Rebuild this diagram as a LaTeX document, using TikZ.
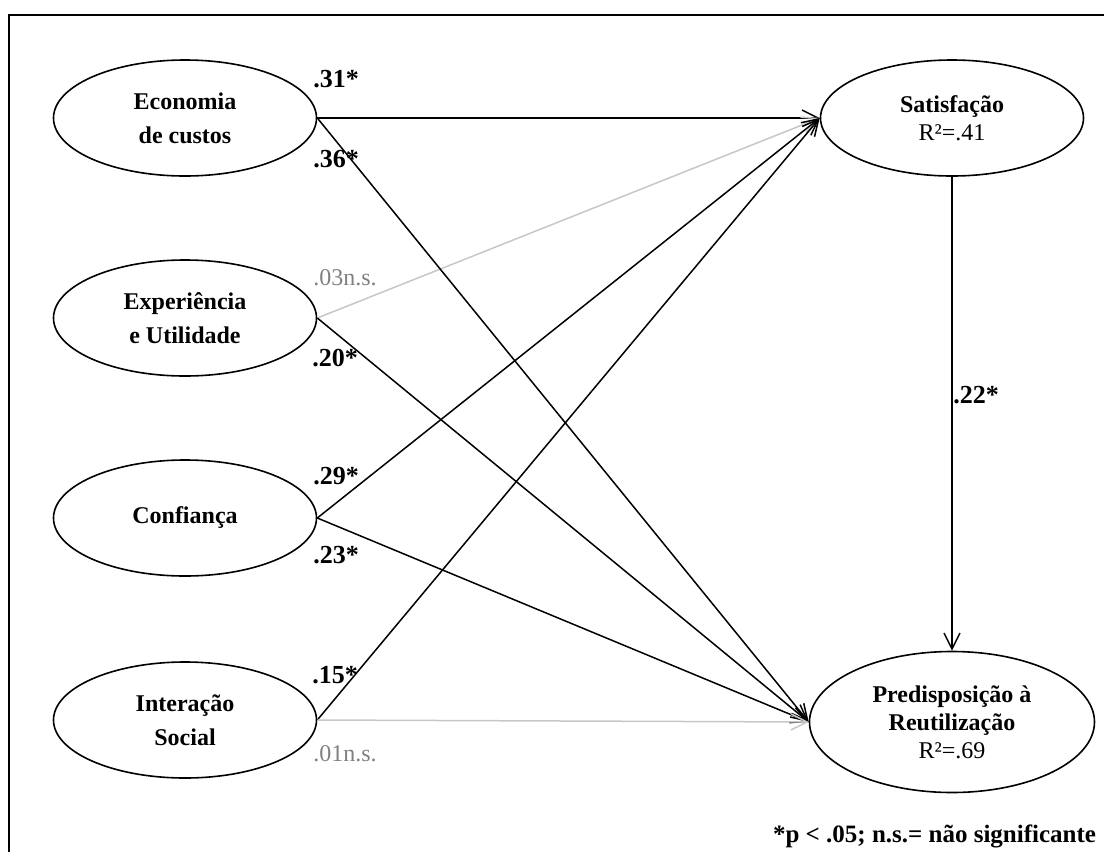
\documentclass[tikz,border=0pt]{standalone}
\usepackage{fontspec}
\setmainfont{Liberation Serif}
\usetikzlibrary{shapes.geometric,arrows.meta}
\newcommand{\diagfont}{\fontsize{12}{14}\selectfont}
\newcommand{\coeffont}{\fontsize{13}{15}\selectfont}
\newcommand{\tiplen}{8pt}

\begin{document}
\begin{tikzpicture}[x=.5pt,y=-.5pt,
    latent/.style={draw, ellipse, line width=.8pt, minimum width=131.5pt,
      minimum height=58pt, inner sep=0pt, align=center, font=\diagfont\bfseries},
    path/.style={line width=.75pt, -{Straight Barb[length=\tiplen,width=\tiplen]}},
    nspath/.style={path, draw=black!22},
    coef/.style={font=\coeffont\bfseries},
    nscoef/.style={font=\diagfont, text=black!50}]
  \useasboundingbox (0,0) rectangle (1104,852);
  \draw[line width=.6pt] (9,870) -- (9,15) -- (1120,15);

      \node (econ) at (185,118) [latent] {Economia\\[3pt]de custos};
      \node (expe) at (185,318) [latent] {Experiência\\[3pt]e Utilidade};
      \node (conf) at (185,518) [latent] {Confiança};
      \node (inte) at (185,720) [latent] {Interação\\[3pt]Social};
      \node (sati) at (952,118) [latent] {Satisfação\\\mdseries R²=.41};
      \node (pred) at (952,722) [latent, minimum width=142.5pt, minimum height=70.5pt]
        {Predisposição à\\Reutilização\\\mdseries R²=.69};

      \draw[path] (econ.east) -- (sati.west);
      \draw[nspath] (expe.east) -- (sati.west);
      \draw[path] (conf.east) -- (sati.west);
      \draw[path] (inte.east) -- (sati.west);
      \draw[path] (econ.east) -- (pred.west);
      \draw[path] (expe.east) -- (pred.west);
      \draw[path] (conf.east) -- (pred.west);
      \draw[nspath] (inte.east) -- (pred.west);
      \draw[path] (sati.south) -- (pred.north);

      \node (c31) at (336,79) [coef] {.31*};
      \node (c36) at (336,159) [coef] {.36*};
      \node (c03) at (345,278) [nscoef] {.03n.s.};
      \node (c20) at (335,358) [coef] {.20*};
      \node (c29) at (336,476) [coef] {.29*};
      \node (c23) at (336,555) [coef] {.23*};
      \node (c15) at (335,675) [coef] {.15*};
      \node (c01) at (345,754) [nscoef] {.01n.s.};
      \node (c22) at (976,395) [coef] {.22*};

      \node (note) at (766,836) [anchor=west, font=\fontsize{12.5}{14}\selectfont\bfseries] {*p < .05; n.s.= não significante};
\end{tikzpicture}
\end{document}
